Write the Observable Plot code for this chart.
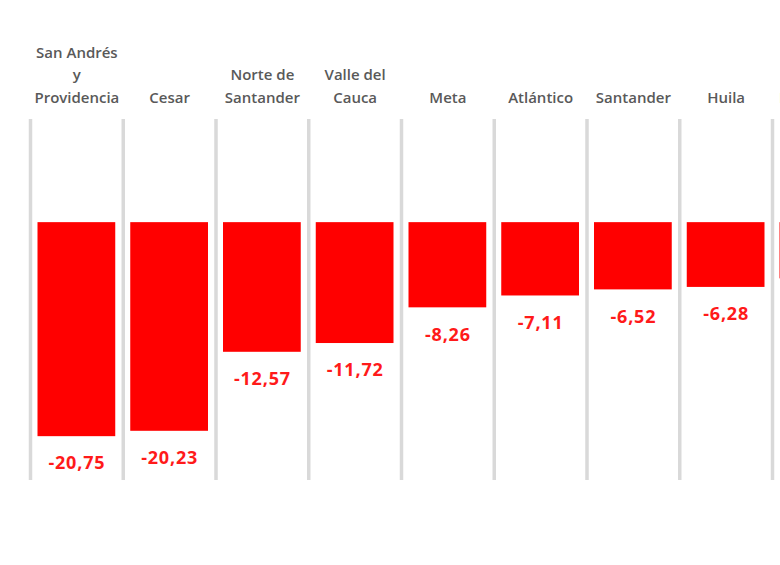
<!DOCTYPE html>
<html>
<head>
<meta charset="utf-8">
<script src="https://cdn.jsdelivr.net/npm/d3@7"></script>
<script src="https://cdn.jsdelivr.net/npm/@observablehq/plot@0.6"></script>
<style>
  html, body { margin: 0; padding: 0; background: #fff; overflow: hidden; }
  #chart { width: 780px; height: 565px; overflow: hidden; }
  .vals text { letter-spacing: 0.8px; }
</style>
</head>
<body>
<div id="chart"></div>
<script>
// Categories (departments) and their values
const departments = [
  "San Andrés\ny\nProvidencia",
  "Cesar",
  "Norte de\nSantander",
  "Valle del\nCauca",
  "Meta",
  "Atlántico",
  "Santander",
  "Huila",
  "Magdalena"
];
const values = [-20.75, -20.23, -12.57, -11.72, -8.26, -7.11, -6.52, -6.28, -5.45];

const data = departments.map((d, i) => ({dept: d, value: values[i]}));
const fmt = v => v.toFixed(2).replace(".", ",");

const step = 92.75;
const chart = Plot.plot({
  width: 780,
  height: 565,
  marginTop: 119,
  marginBottom: 85,
  marginLeft: 30,
  marginRight: 0,
  style: {overflow: "hidden", background: "#fff"},
  x: {domain: departments, range: [30, 30 + departments.length * step], padding: 0, round: false, label: null},
  y: {domain: [-25, 10], axis: null},
  marks: [
    Plot.ruleX(departments, {x: d => d, dx: -step / 2, y1: 10, y2: -25, stroke: "#d9d9d9", strokeWidth: 3.5}),
    Plot.barY(data, {x: "dept", y: "value", fill: "#ff0000", insetLeft: 7.5, insetRight: 7.5}),
    Plot.text(data, {
      x: "dept", y: "value", text: d => fmt(d.value), dy: 27, className: "vals",
      fill: "#ff1a1a", fontSize: 18, fontWeight: "bold",
      fontFamily: "'Open Sans', Lato, sans-serif"
    }),
    Plot.axisX({
      anchor: "top", tickSize: 0, tickPadding: 17, label: null,
      fontSize: 15, lineHeight: 1.47, fill: "#595959",
      fontFamily: "'Open Sans', Lato, sans-serif", fontWeight: 600
    })
  ]
});
document.getElementById("chart").append(chart);
</script>
</body>
</html>
